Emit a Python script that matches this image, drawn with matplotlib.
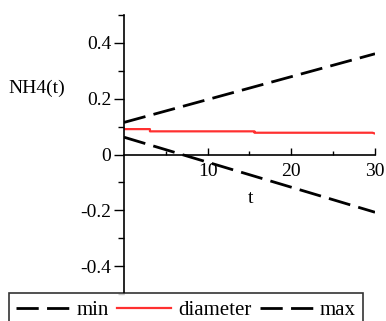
import matplotlib
matplotlib.use("Agg")
import matplotlib.pyplot as plt
from matplotlib.ticker import FixedLocator, MultipleLocator

FONT = "Liberation Serif"
FONT_SIZE = 14

# data
t_lin = [0, 30]
min_vals = [0.062, -0.207]
max_vals = [0.115, 0.361]

t_diam = [0, 3.1, 3.1, 15.6, 15.6, 29.7, 30]
diam_vals = [0.091, 0.091, 0.083, 0.083, 0.078, 0.078, 0.075]

y_ticks = [-0.4, -0.2, 0, 0.2, 0.4]
y_tick_labels = ["-0.4", "-0.2", "0", "0.2", "0.4"]
x_ticks = [10, 20, 30]

plt.rcParams.update({"font.family": FONT, "lines.scale_dashes": False})

W, H = 386, 321
fig = plt.figure(figsize=(W / 100, H / 100), dpi=100)
ax = fig.add_axes([124 / W, 1 - 294 / H, 251 / W, 279 / H])

ax.plot(t_lin, min_vals, color="black", linewidth=2.0, dashes=(16, 6), label="min")
ax.plot(t_diam, diam_vals, color="#ff3030", linewidth=1.6, label="diameter")
ax.plot(t_lin, max_vals, color="black", linewidth=2.0, dashes=(16, 6), label="max")

ax.set_xlim(0, 30)
ax.set_ylim(-0.5, 0.5)

ax.spines["top"].set_visible(False)
ax.spines["right"].set_visible(False)
ax.spines["bottom"].set_position(("data", 0))
for s in ("left", "bottom"):
    ax.spines[s].set_linewidth(1.2)

ax.xaxis.set_major_locator(FixedLocator(x_ticks))
ax.xaxis.set_minor_locator(FixedLocator([5, 15, 25]))
ax.yaxis.set_major_locator(FixedLocator(y_ticks))
ax.yaxis.set_minor_locator(MultipleLocator(0.1))
ax.set_yticklabels(y_tick_labels)
ax.tick_params(axis="x", which="major", direction="in", length=5, width=1, labelsize=FONT_SIZE, pad=6)
ax.tick_params(axis="x", which="minor", direction="in", length=3, width=1)
ax.tick_params(axis="y", which="major", direction="out", length=7, width=1, labelsize=FONT_SIZE, pad=2)
ax.tick_params(axis="y", which="minor", direction="out", length=4, width=1)

ax.text(0.506, 0.344, "t", transform=ax.transAxes, ha="center", va="center", fontsize=FONT_SIZE)
fig.text(37 / W, 1 - 88 / H, "NH4(t)", ha="center", va="center", fontsize=FONT_SIZE)

leg = fig.legend(
    loc="upper left",
    bbox_to_anchor=(9 / W, 1 - 293 / H),
    ncol=3,
    fontsize=15,
    frameon=True,
    fancybox=False,
    edgecolor="black",
    handlelength=2.55,
    handletextpad=0.35,
    columnspacing=0.4,
    borderpad=0.35,
    borderaxespad=0,
)
leg.get_frame().set_linewidth(1.2)

fig.savefig("out.png", dpi=100)
